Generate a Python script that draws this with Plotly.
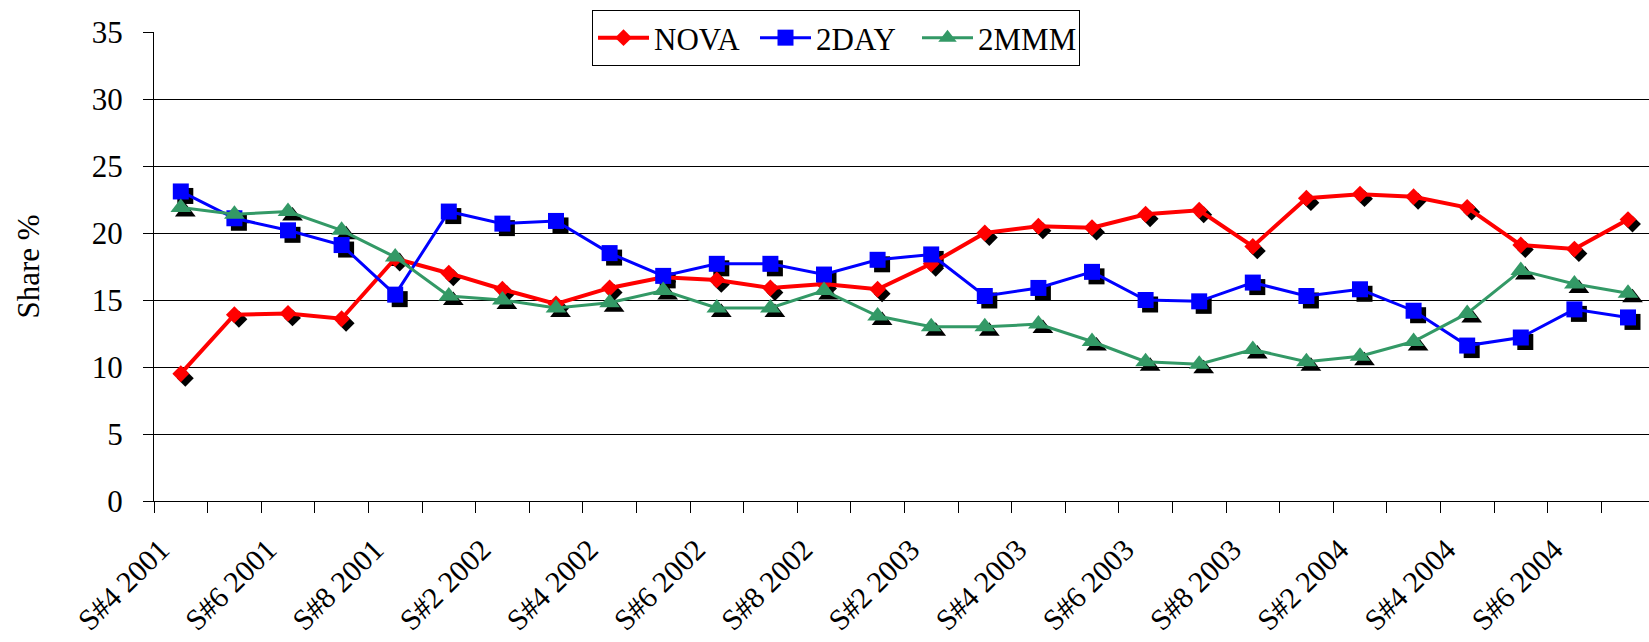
import plotly.graph_objects as go

categories = [
    "S#4 2001", "S#5 2001", "S#6 2001", "S#7 2001", "S#8 2001",
    "S#1 2002", "S#2 2002", "S#3 2002", "S#4 2002", "S#5 2002", "S#6 2002", "S#7 2002", "S#8 2002",
    "S#1 2003", "S#2 2003", "S#3 2003", "S#4 2003", "S#5 2003", "S#6 2003", "S#7 2003", "S#8 2003",
    "S#1 2004", "S#2 2004", "S#3 2004", "S#4 2004", "S#5 2004", "S#6 2004", "S#7 2004",
]
nova = [9.5, 13.9, 14.0, 13.6, 18.1, 17.0, 15.8, 14.7, 15.9, 16.7, 16.5, 15.9, 16.2, 15.8,
        17.7, 20.0, 20.5, 20.4, 21.4, 21.7, 19.0, 22.6, 22.9, 22.7, 21.9, 19.1, 18.8, 21.0]
twoday = [23.1, 21.1, 20.2, 19.1, 15.4, 21.6, 20.7, 20.9, 18.5, 16.8, 17.7, 17.7, 16.9, 18.0,
          18.4, 15.3, 15.9, 17.1, 15.0, 14.9, 16.3, 15.3, 15.8, 14.2, 11.6, 12.2, 14.3, 13.7]
twommm = [21.9, 21.4, 21.6, 20.2, 18.2, 15.3, 15.0, 14.4, 14.8, 15.7, 14.4, 14.4, 15.7, 13.8,
          13.0, 13.0, 13.2, 11.9, 10.4, 10.2, 11.3, 10.4, 10.8, 11.9, 14.0, 17.2, 16.2, 15.5]
y_ticks = [0, 5, 10, 15, 20, 25, 30, 35]

series = [
    ("NOVA", nova, "#FF0000", 4, "diamond", 13),
    ("2DAY", twoday, "#0000FF", 3, "square", 16),
    ("2MMM", twommm, "#339966", 3, "triangle-up", 18),
]

W, H = 1649, 642
ML, MR, MT, MB = 154, 0, 32, 141
plot_w = W - ML - MR
plot_h = H - MT - MB
x_idx = list(range(len(categories)))
cat_px = 53.6
x_lo = -0.5
x_hi = x_lo + plot_w / cat_px
y_lo, y_hi = 0, 35

shadow_px = 4.5
dx = shadow_px / cat_px
dy = shadow_px / (plot_h / (y_hi - y_lo))

label_shift = 0.38
font_family = "Liberation Serif"
fsize = 31
xfsize = 30

fig = go.Figure()

for name, vals, color, lw, sym, ms in series:
    fig.add_trace(go.Scatter(
        x=x_idx, y=vals, mode="markers", showlegend=False, hoverinfo="skip",
        marker=dict(symbol=sym, size=ms, color="black", line=dict(width=0)),
        xaxis="x", yaxis="y", cliponaxis=False,
    ))

for name, vals, color, lw, sym, ms in series:
    fig.add_trace(go.Scatter(
        x=x_idx, y=vals, mode="lines+markers", name=name,
        line=dict(color=color, width=lw),
        marker=dict(symbol=sym, size=ms, color=color, line=dict(width=0)),
        xaxis="x2", yaxis="y2", cliponaxis=False,
    ))

fig.update_layout(
    width=W, height=H,
    margin=dict(l=ML, r=MR, t=MT, b=MB, pad=0, autoexpand=False),
    paper_bgcolor="white", plot_bgcolor="white",
    font=dict(family=font_family, size=fsize, color="black"),
    xaxis=dict(range=[x_lo - dx, x_hi - dx], visible=False, automargin=False),
    yaxis=dict(range=[y_lo + dy, y_hi + dy], visible=False, automargin=False),
    xaxis2=dict(
        overlaying="x", anchor="y2", side="bottom",
        range=[x_lo, x_hi], automargin=False,
        tickmode="array",
        tickvals=[i - label_shift for i in x_idx[::2]], ticktext=categories[::2],
        tickangle=-45, ticks="", ticklen=0,
        ticklabelstandoff=18,
        tickfont=dict(family=font_family, size=xfsize),
        minor=dict(tick0=-0.5, dtick=1, ticks="outside", ticklen=11,
                   tickcolor="black", tickwidth=1, showgrid=False),
        showline=True, linecolor="black", linewidth=1,
        showgrid=False, zeroline=False,
    ),
    yaxis2=dict(
        overlaying="y", anchor="x2", side="left",
        range=[y_lo, y_hi], automargin=False,
        tickmode="array", tickvals=y_ticks,
        ticks="outside", ticklen=10, tickcolor="black",
        ticklabelstandoff=14,
        tickfont=dict(family=font_family, size=fsize),
        showline=True, linecolor="black", linewidth=1,
        showgrid=True, gridcolor="black", gridwidth=1,
        zeroline=False,
    ),
    legend=dict(
        orientation="h", x=(592 - ML) / plot_w, xanchor="left",
        y=(H - MB - 10) / plot_h, yanchor="top",
        itemwidth=51, entrywidth=96, entrywidthmode="pixels",
        bgcolor="white", bordercolor="black", borderwidth=1,
        font=dict(family=font_family, size=fsize),
    ),
    annotations=[dict(
        text="Share %", textangle=-90, showarrow=False,
        xref="paper", yref="paper",
        x=(28 - ML) / plot_w, y=0.5, xanchor="center", yanchor="middle",
        font=dict(family=font_family, size=fsize),
    )],
)

fig.write_html("out.html")
